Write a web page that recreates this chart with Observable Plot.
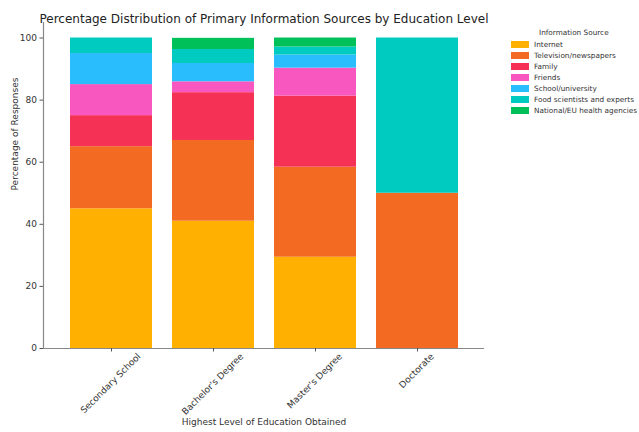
<!DOCTYPE html>
<html>
<head>
<meta charset="utf-8">
<script src="https://cdn.jsdelivr.net/npm/d3@7"></script>
<script src="https://cdn.jsdelivr.net/npm/@observablehq/plot@0.6"></script>
<style>
  body { margin: 0; background: #fff; }
  #wrap { position: relative; width: 639px; height: 432px; overflow: hidden; font-family: "DejaVu Sans", sans-serif; }
  #legend { position: absolute; left: 511px; top: 28px; font-size: 7.3px; color: #333; white-space: nowrap; }
  #legend .ttl { margin-left: 28px; margin-bottom: 2px; }
  #legend .row { display: flex; align-items: center; height: 11px; }
  #legend .sw { width: 18px; height: 6.5px; margin-right: 5px; flex: none; }
</style>
</head>
<body>
<div id="wrap"><div id="legend"></div></div>
<script>
// Education levels along the x axis
const educationLevels = ["Secondary School", "Bachelor's Degree", "Master's Degree", "Doctorate"];
// Information sources, in stacking order (bottom to top)
const sources = ["Internet", "Television/newspapers", "Family", "Friends", "School/university", "Food scientists and experts", "National/EU health agencies"];
const sourceColors = ["#ffb000", "#f36b22", "#f53256", "#f957c0", "#29bdfd", "#00cbc1", "#00c05a"];

// Percentage of responses per source, one value per education level
const internet     = [45, 41, 29.4, 0];
const tvNewspapers = [20, 26, 29, 50];
const family       = [10, 15.4, 22.9, 0];
const friends      = [10, 3.5, 9, 0];
const school       = [10, 5.9, 4.2, 0];
const foodExperts  = [5, 4.5, 2.6, 50];
const healthAgency = [0, 3.6, 2.9, 0];
const yTicks = [0, 20, 40, 60, 80, 100];

const series = [internet, tvNewspapers, family, friends, school, foodExperts, healthAgency];
const rows = [];
sources.forEach((s, i) => educationLevels.forEach((lvl, j) => rows.push({level: lvl, source: s, value: series[i][j]})));

// Rotated tick labels are centred under their ticks: measure each label
// so the rotated text's bounding box is centred on the band.
const FONT = 9;
const ctx = document.createElement("canvas").getContext("2d");
ctx.font = `${FONT}px "DejaVu Sans"`;
const tickLabelMarks = educationLevels.map(lvl => {
  const w = ctx.measureText(lvl).width;
  const h = FONT * 1.05;
  return Plot.text([lvl], {
    x: d => d, frameAnchor: "bottom", rotate: -45,
    textAnchor: "end", lineAnchor: "top",
    dx: 0.7071 * (w - h) / 2, dy: 4,
    fontSize: FONT, fill: "#333"
  });
});

const chart = Plot.plot({
  width: 639,
  height: 432,
  marginTop: 22,
  marginBottom: 84,
  marginLeft: 43,
  marginRight: 155,
  style: {fontFamily: "DejaVu Sans, sans-serif", fontSize: "9px", color: "#333", background: "#fff"},
  x: {domain: educationLevels, paddingInner: 0.2, paddingOuter: 0.25, label: null},
  y: {domain: [0, 105], label: null},
  color: {domain: sources, range: sourceColors},
  marks: [
    Plot.barY(rows, {x: "level", y: "value", fill: "source"}),
    Plot.frame({anchor: "left", stroke: "#888", strokeWidth: 1.2}),
    Plot.ruleY([0], {stroke: "#888", strokeWidth: 1.2}),
    Plot.axisY({ticks: yTicks, tickSize: 3.5, tickPadding: 3, stroke: "#555", label: null, fontSize: FONT}),
    Plot.axisX({tickSize: 3.5, tickFormat: () => "", stroke: "#555", label: null}),
    ...tickLabelMarks,
    Plot.text(["Percentage Distribution of Primary Information Sources by Education Level"], {frameAnchor: "top", dy: -8, fontSize: 12, fill: "#222"}),
    Plot.text(["Highest Level of Education Obtained"], {frameAnchor: "bottom", dy: 76, fontSize: FONT, fill: "#333"}),
    Plot.text(["Percentage of Responses"], {frameAnchor: "left", dx: -28, dy: 5, rotate: -90, fontSize: FONT, fill: "#333"})
  ]
});
document.getElementById("wrap").prepend(chart);

// Legend built from the same sources and colors
const legend = document.getElementById("legend");
legend.innerHTML = `<div class="ttl">Information Source</div>` +
  sources.map((s, i) => `<div class="row"><div class="sw" style="background:${sourceColors[i]}"></div>${s}</div>`).join("");
</script>
</body>
</html>
